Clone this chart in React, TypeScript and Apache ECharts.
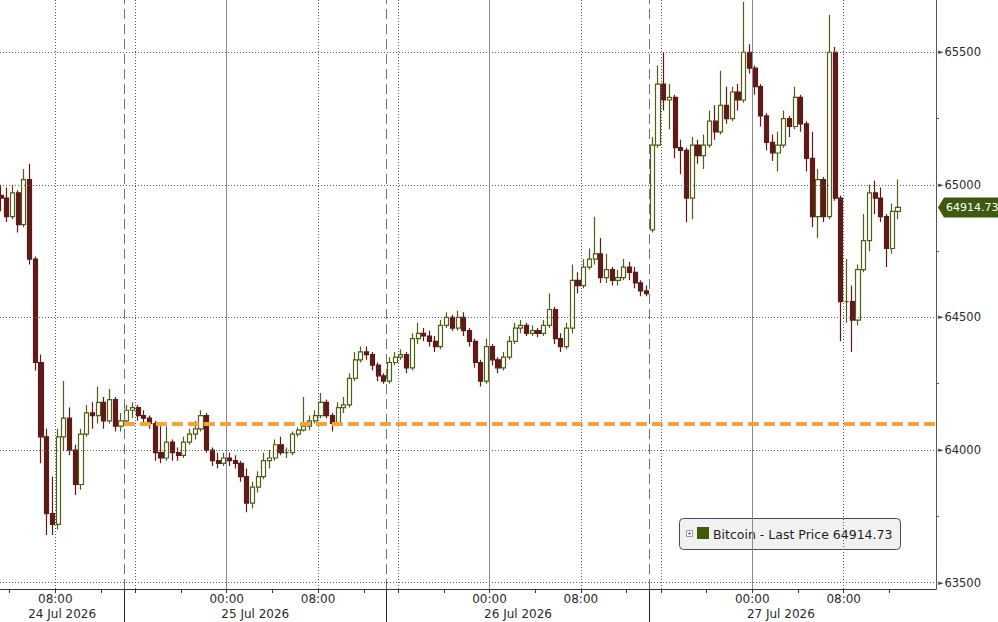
import React, { useEffect, useRef } from "react";
import * as echarts from "echarts";

// Time axis in "session hours": each trading day spans 23 hours on the axis
// (00:00 at 23*d, session break at 23*d+14, 16:00 at 23*d+15 ...)
const FIRST_SLOT = 3.25;
const SLOT = 0.5;
const X_MIN = 3.16;
const X_MAX = 85.08;
const Y_MIN = 63476;
const Y_MAX = 65697;

const opens = [
  64960, 64950, 64880, 64970, 64850, 65020, 64720, 64330, 64050, 63760,
  63720, 64050, 64120, 64000, 63870, 64060, 64140, 64130, 64180, 64110,
  64190, 64090, 64110, 64150, 64160, 64130, 64120, 64100, 63990, 63970,
  64030, 63990, 63980, 64030, 64060, 64080, 64130, 64000, 63960, 63950,
  63970, 63960, 63950, 63900, 63800, 63860, 63900, 63960, 63970, 64020,
  63990, 63990, 64060, 64075, 64090, 64110, 64130, 64180, 64130, 64100,
  64160, 64170, 64270, 64340, 64370, 64360, 64320, 64280, 64260, 64330,
  64350, 64360, 64310, 64420, 64440, 64430, 64410, 64390, 64470, 64500,
  64460, 64500, 64450, 64410, 64330, 64260, 64390, 64340, 64310, 64350,
  64410, 64460, 64470, 64440, 64450, 64440, 64470, 64530, 64420, 64390,
  64460, 64640, 64620, 64690, 64720, 64740, 64650, 64680, 64640, 64650,
  64690, 64670, 64630, 64600, 64830, 65150, 65380, 65320, 65330, 65140,
  65130, 64950, 65150, 65110, 65150, 65240, 65200, 65300, 65250, 65350,
  65320, 65500, 65440, 65370, 65260, 65160, 65120, 65150, 65250, 65220,
  65330, 65230, 65100, 64880, 65020, 64880, 65500, 64950, 64560, 64560,
  64490, 64680, 64790, 64970, 64950, 64880, 64760, 64900,
];
const closes = [
  64950, 64880, 64970, 64850, 65020, 64720, 64330, 64050, 63760, 63720,
  64050, 64120, 64000, 63870, 64060, 64140, 64130, 64180, 64110, 64190,
  64090, 64110, 64150, 64160, 64130, 64120, 64100, 63990, 63970, 64030,
  63990, 63980, 64030, 64060, 64080, 64130, 64000, 63960, 63950, 63970,
  63960, 63950, 63900, 63800, 63860, 63900, 63960, 63970, 64020, 63990,
  63990, 64060, 64075, 64090, 64110, 64130, 64180, 64130, 64100, 64160,
  64170, 64270, 64340, 64370, 64360, 64320, 64280, 64260, 64330, 64350,
  64360, 64310, 64420, 64440, 64430, 64410, 64390, 64470, 64500, 64460,
  64500, 64450, 64410, 64330, 64260, 64390, 64340, 64310, 64350, 64410,
  64460, 64470, 64440, 64450, 64440, 64470, 64530, 64420, 64390, 64460,
  64640, 64620, 64690, 64720, 64740, 64650, 64680, 64640, 64650, 64690,
  64670, 64630, 64600, 64590, 65150, 65380, 65320, 65330, 65140, 65130,
  64950, 65150, 65110, 65150, 65240, 65200, 65300, 65250, 65350, 65320,
  65500, 65440, 65370, 65260, 65160, 65120, 65150, 65250, 65220, 65330,
  65230, 65100, 64880, 65020, 64880, 65500, 64950, 64560, 64560, 64490,
  64680, 64790, 64970, 64950, 64880, 64760, 64900, 64914.73,
];
const lows = [
  64900, 64860, 64870, 64820, 64840, 64700, 64300, 63950, 63680, 63680,
  63700, 64000, 63980, 63830, 63850, 64050, 64080, 64100, 64080, 64100,
  64070, 64070, 64100, 64120, 64110, 64100, 64080, 63960, 63950, 63960,
  63960, 63960, 63970, 64020, 64040, 64070, 63990, 63940, 63930, 63940,
  63940, 63930, 63880, 63765, 63780, 63840, 63890, 63930, 63960, 63980,
  63970, 63980, 64050, 64070, 64075, 64100, 64120, 64120, 64070, 64090,
  64140, 64160, 64260, 64330, 64340, 64300, 64260, 64250, 64250, 64320,
  64340, 64290, 64300, 64400, 64410, 64390, 64370, 64380, 64460, 64450,
  64450, 64430, 64390, 64310, 64240, 64250, 64320, 64290, 64300, 64340,
  64400, 64440, 64430, 64430, 64425, 64430, 64460, 64400, 64370, 64380,
  64440, 64590, 64610, 64680, 64700, 64630, 64630, 64620, 64620, 64640,
  64640, 64610, 64580, 64580, 64820, 65140, 65280, 65210, 65100, 65040,
  64860, 64870, 65080, 65060, 65140, 65170, 65190, 65230, 65240, 65280,
  65310, 65420, 65340, 65220, 65130, 65090, 65050, 65140, 65180, 65210,
  65200, 65050, 64840, 64800, 64860, 64870, 64940, 64410, 64480, 64370,
  64470, 64670, 64750, 64890, 64860, 64690, 64740, 64870,
];
const highs = [
  65000, 64990, 65000, 64980, 65060, 65080, 64730, 64360, 64080, 63900,
  64080, 64260, 64160, 64020, 64080, 64170, 64180, 64240, 64200, 64230,
  64200, 64140, 64170, 64180, 64170, 64150, 64130, 64110, 64090, 64090,
  64040, 64010, 64050, 64080, 64110, 64150, 64140, 64010, 63990, 63990,
  63990, 63980, 63960, 63930, 63880, 63920, 63990, 64000, 64040, 64050,
  64010, 64070, 64085, 64200, 64130, 64150, 64215, 64190, 64140, 64180,
  64200, 64290, 64370, 64390, 64390, 64370, 64330, 64290, 64350, 64370,
  64380, 64370, 64440, 64480, 64460, 64450, 64430, 64490, 64520, 64510,
  64525, 64520, 64460, 64420, 64340, 64420, 64400, 64350, 64370, 64430,
  64480, 64490, 64480, 64470, 64460, 64490, 64590, 64540, 64440, 64480,
  64700, 64670, 64720, 64760, 64880, 64800, 64740, 64690, 64680, 64720,
  64710, 64690, 64640, 64620, 65180, 65450, 65500, 65380, 65340, 65170,
  65140, 65180, 65170, 65190, 65280, 65300, 65430, 65370, 65370, 65380,
  65690, 65530, 65450, 65380, 65270, 65190, 65200, 65280, 65260, 65370,
  65340, 65240, 65200, 65060, 65030, 65640, 65520, 64960, 64720, 64620,
  64700, 64890, 65000, 65015, 64990, 64890, 64930, 65020,
];

const hourTickPos = [4, 8, 12, 15, 19, 23, 27, 31, 35, 38, 42, 46, 50, 54, 58, 61, 65, 69, 73, 77, 81];
const timeLabelPos = [8, 23, 31, 46, 54, 69, 77];
const timeLabels = ["08:00", "00:00", "08:00", "00:00", "08:00", "00:00", "08:00"];
const dayLabelPos = [8.6, 25.5, 48.5, 71.5];
const dayLabels = ["24 Jul 2026", "25 Jul 2026", "26 Jul 2026", "27 Jul 2026"];
const midnightPos = [23, 46, 69];
const dottedPos = [8, 15, 31, 38, 54, 61, 77];
const sessionBreakPos = [14, 37, 60];
const yTicks = [63500, 64000, 64500, 65000, 65500];
const yMinorTicks = [63750, 64250, 64750, 65250];
const refLevel = 64098;
const refStart = 14;
const lastPrice = 64914.73;
const legendText = "Bitcoin - Last Price 64914.73";

const FONT = "DejaVu Sans";
const UP = "#4d6014";
const DOWN = "#5e1b17";

export default function App() {
  const ref = useRef<HTMLDivElement>(null);

  useEffect(() => {
    if (!ref.current) return;
    const chart = echarts.init(ref.current, undefined, { renderer: "svg" });

    const candles = closes.map((c, i) => [FIRST_SLOT + SLOT * i, opens[i], c, lows[i], highs[i]]);

    const dotted = { color: "#5a5a5a", width: 1, type: [1, 2] };
    const solid = { color: "#8a8a8a", width: 1, type: "solid" };
    const dashed = { color: "#707070", width: 1, type: [10, 5] };

    chart.setOption({
      animation: false,
      textStyle: { fontFamily: FONT },
      grid: { left: 0, right: 62, top: 0, bottom: 33, containLabel: false },
      xAxis: [
        {
          type: "value",
          position: "bottom",
          min: X_MIN,
          max: X_MAX,
          axisLine: { show: true, lineStyle: { color: "#333", width: 1 } },
          axisTick: { show: true, customValues: hourTickPos, length: 4, lineStyle: { color: "#333" } },
          axisLabel: {
            customValues: timeLabelPos,
            formatter: (v: number) => timeLabels[timeLabelPos.indexOf(v)] ?? "",
            fontFamily: FONT,
            fontSize: 12,
            color: "#2a2a2a",
            margin: 4,
          },
          splitLine: { show: false },
        },
        {
          type: "value",
          position: "bottom",
          min: X_MIN,
          max: X_MAX,
          axisLine: { show: false },
          axisTick: { show: true, customValues: sessionBreakPos, length: 33, lineStyle: { color: "#222" } },
          axisLabel: {
            customValues: dayLabelPos,
            formatter: (v: number) => dayLabels[dayLabelPos.indexOf(v)] ?? "",
            fontFamily: FONT,
            fontSize: 12,
            color: "#2a2a2a",
            margin: 19,
          },
          splitLine: { show: false },
        },
      ],
      yAxis: [
        {
          type: "value",
          position: "right",
          min: Y_MIN,
          max: Y_MAX,
          axisLine: { show: true, lineStyle: { color: "#555", width: 1 } },
          axisTick: { show: false, customValues: yTicks },
          axisLabel: {
            customValues: yTicks,
            formatter: (v: number) => `{a|►}{b|${v}}`,
            margin: 2,
            rich: {
              a: { fontSize: 7, color: "#4a4a4a", fontFamily: FONT, padding: [0, 1, 0, 0] },
              b: { fontSize: 11.5, color: "#2a2a2a", fontFamily: FONT },
            },
          },
          splitLine: { show: false },
        },
        {
          type: "value",
          position: "right",
          min: Y_MIN,
          max: Y_MAX,
          axisLine: { show: false },
          axisTick: { show: true, customValues: yMinorTicks, length: 3, lineStyle: { color: "#555" } },
          axisLabel: { show: false },
          splitLine: { show: false },
        },
      ],
      series: [
        {
          type: "line",
          data: [],
          z: 1,
          silent: true,
          markLine: {
            silent: true,
            symbol: ["none", "none"],
            label: { show: false },
            data: [
              ...yTicks.map((v) => ({ yAxis: v, lineStyle: dotted })),
              ...midnightPos.map((v) => ({ xAxis: v, lineStyle: solid })),
              ...dottedPos.map((v) => ({ xAxis: v, lineStyle: dotted })),
              ...sessionBreakPos.map((v) => ({ xAxis: v, lineStyle: dashed })),
            ],
          },
        },
        {
          type: "candlestick",
          name: "Bitcoin",
          data: candles,
          encode: { x: 0, y: [1, 2, 3, 4] },
          barWidth: 4.6,
          z: 3,
          itemStyle: {
            color: "#ffffff",
            color0: DOWN,
            borderColor: UP,
            borderColor0: DOWN,
            borderWidth: 1.2,
          },
        },
        {
          type: "line",
          data: [],
          z: 5,
          silent: true,
          markLine: {
            silent: true,
            symbol: ["none", "none"],
            label: { show: false },
            data: [
              [
                { coord: [refStart, refLevel], lineStyle: { color: "#f5a333", width: 4, type: [11, 5] } },
                { coord: [X_MAX, refLevel] },
              ],
            ],
          },
        },
      ],
    });

    const yPix = chart.convertToPixel({ yAxisIndex: 0 }, lastPrice) as number;
    const xR = chart.convertToPixel({ xAxisIndex: 0 }, X_MAX) as number;
    chart.setOption({
      graphic: [
        {
          type: "polygon",
          z: 10,
          shape: {
            points: [
              [xR + 2, yPix],
              [xR + 8, yPix - 10],
              [998, yPix - 10],
              [998, yPix + 10],
              [xR + 8, yPix + 10],
            ],
          },
          style: { fill: "#3e5a10" },
        },
        {
          type: "text",
          z: 11,
          x: xR + 10,
          y: yPix,
          style: {
            text: lastPrice.toFixed(2),
            fill: "#ffffff",
            font: `11px "${FONT}"`,
            verticalAlign: "middle",
            align: "left",
          },
        },
        {
          type: "group",
          z: 0,
          children: [
            {
              type: "rect",
              z: 0,
              shape: { x: 679.5, y: 518.5, width: 221, height: 31, r: 4 },
              style: { fill: "#f1f1f1", stroke: "#4a4a4a", lineWidth: 1 },
            },
            {
              type: "rect",
              z: 0,
              shape: { x: 686.5, y: 530.5, width: 6, height: 6 },
              style: { fill: "#ffffff", stroke: "#9a9a9a", lineWidth: 1 },
            },
            {
              type: "line",
              z: 0,
              shape: { x1: 688, y1: 533.5, x2: 691, y2: 533.5 },
              style: { stroke: "#777", lineWidth: 1 },
            },
            {
              type: "line",
              z: 0,
              shape: { x1: 689.5, y1: 532, x2: 689.5, y2: 535 },
              style: { stroke: "#777", lineWidth: 1 },
            },
            {
              type: "rect",
              z: 0,
              shape: { x: 697, y: 527, width: 12, height: 12 },
              style: { fill: "#3d5c0b" },
            },
            {
              type: "text",
              z: 0,
              x: 713,
              y: 534,
              style: {
                text: legendText,
                fill: "#1e1e1e",
                font: `12.5px "${FONT}"`,
                verticalAlign: "middle",
                align: "left",
              },
            },
          ],
        },
      ],
    });

    return () => chart.dispose();
  }, []);

  return (
    <div
      ref={ref}
      style={{ position: "fixed", left: 0, top: 0, width: 998, height: 622, background: "#ffffff" }}
    />
  );
}
